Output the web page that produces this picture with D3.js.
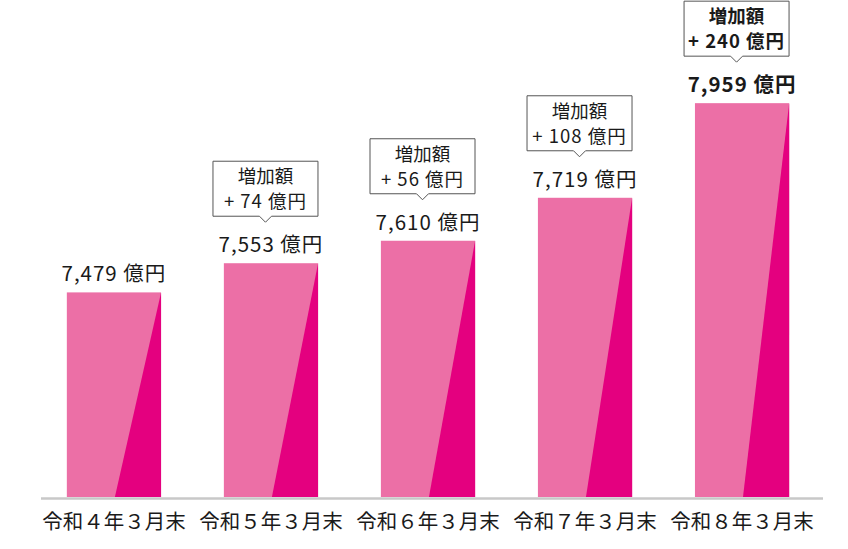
<!DOCTYPE html>
<html>
<head>
<meta charset="utf-8">
<script src="https://cdn.jsdelivr.net/npm/d3@7.9.0/dist/d3.min.js"></script>
<style>
  body { margin: 0; background: #fff; }
  text { font-family: "Noto Sans CJK JP", "Noto Sans", sans-serif; fill: #1a1a1a; }
</style>
</head>
<body>
<svg id="chart"></svg>
<script>
// data
const periods = ['令和４年３月末', '令和５年３月末', '令和６年３月末', '令和７年３月末', '令和８年３月末'];
const balances = [7479, 7553, 7610, 7719, 7959];     // 億円
const increases = [null, 74, 56, 108, 240];          // 増加額, 億円

const width = 848;
const height = 549;
const baseY = 497;

const svg = d3.select('#chart')
  .attr('width', width)
  .attr('height', height);

const x = d3.scaleBand()
  .domain(periods)
  .range([37, 819])
  .paddingInner(0.4)
  .paddingOuter(0.19);

const y = d3.scaleLinear()
  .domain([6960, 8000])
  .range([baseY, 87]);

const fmt = d3.format(',');
const bw = x.bandwidth();
const last = periods.length - 1;

const bars = svg.append('g')
  .selectAll('g')
  .data(periods)
  .join('g');

// light pink body
bars.append('rect')
  .attr('x', (d) => x(d))
  .attr('y', (d, i) => y(balances[i]))
  .attr('width', bw)
  .attr('height', (d, i) => baseY - y(balances[i]))
  .attr('fill', '#ec6fa6');

// darker wedge on the right side
bars.append('path')
  .attr('fill', '#e4007f')
  .attr('d', (d, i) => {
    const x0 = x(d);
    const top = y(balances[i]);
    return `M${x0 + bw},${top} L${x0 + bw},${baseY} L${x0 + bw * 0.51},${baseY} Z`;
  });

// baseline
svg.append('line')
  .attr('x1', 41)
  .attr('x2', 823)
  .attr('y1', baseY + 1.5)
  .attr('y2', baseY + 1.5)
  .attr('stroke', '#c8c8c8')
  .attr('stroke-width', 2.5);

// category labels
svg.append('g')
  .selectAll('text')
  .data(periods)
  .join('text')
  .attr('x', (d) => x(d) + bw / 2)
  .attr('y', 520)
  .attr('text-anchor', 'middle')
  .attr('dominant-baseline', 'central')
  .style('font-size', '20.5px')
  .text((d) => d);

// value labels
bars.append('text')
  .attr('x', (d) => x(d) + bw / 2)
  .attr('y', (d, i) => y(balances[i]) - 20)
  .attr('text-anchor', 'middle')
  .attr('dominant-baseline', 'central')
  .style('font-size', '20.5px')
  .style('letter-spacing', '1px')
  .style('font-weight', (d, i) => (i === last ? 'bold' : 'normal'))
  .text((d, i) => `${fmt(balances[i])} 億円`);

// callouts with increase
const callouts = bars.filter((d, i) => increases[i] != null);
const boxW = 105;
const boxH = 55;

callouts.each(function (d) {
  const i = periods.indexOf(d);
  const g = d3.select(this);
  const cx = x(d) + bw / 2 - 5.5;
  const labelY = y(balances[i]) - 20;
  const bottom = labelY - 27;
  const top = bottom - boxH;
  const left = cx - boxW / 2;
  const right = cx + boxW / 2;

  g.append('path')
    .attr('fill', '#fff')
    .attr('stroke', '#555')
    .attr('stroke-width', 1)
    .attr('d', `M${left},${top} H${right} V${bottom} H${cx + 6} L${cx},${bottom + 6} L${cx - 6},${bottom} H${left} Z`);

  const bold = i === last ? 'bold' : 'normal';
  g.append('text')
    .attr('x', cx)
    .attr('y', top + 14)
    .attr('text-anchor', 'middle')
    .attr('dominant-baseline', 'central')
    .style('font-size', '18.5px')
    .style('font-weight', bold)
    .text('増加額');
  g.append('text')
    .attr('x', cx)
    .attr('y', top + 39)
    .attr('text-anchor', 'middle')
    .attr('dominant-baseline', 'central')
    .style('font-size', '18.5px')
    .style('letter-spacing', '1px')
    .style('font-weight', bold)
    .text(`+ ${increases[i]} 億円`);
});
</script>
</body>
</html>
